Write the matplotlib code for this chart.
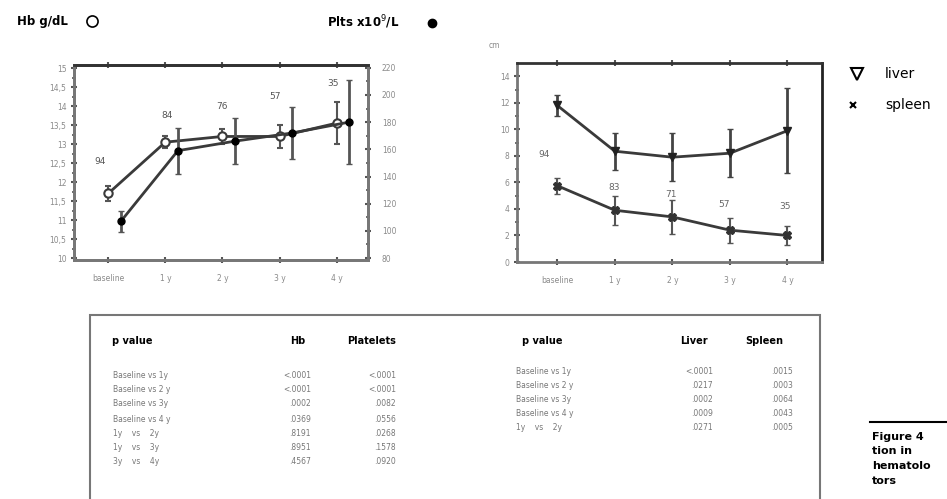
import matplotlib.pyplot as plt
from matplotlib.lines import Line2D
from matplotlib.patches import Rectangle
import numpy as np

# follow-up time points
times = ['baseline', '1 y', '2 y', '3 y', '4 y']
n_left = ['94', '84', '76', '57', '35']
n_right = ['94', '83', '71', '57', '35']

# haemoglobin (g/dL) and platelets (x10^9/L), mean and SD
hb = [11.7, 13.05, 13.2, 13.2, 13.55]
hb_err = [0.2, 0.15, 0.2, 0.3, 0.55]
plt_vals = [107, 159, 166, 172, 180]
plt_err = [8, 17, 17, 19, 31]

# organ size (cm)
liver = [11.8, 8.35, 7.9, 8.2, 9.9]
liver_err = [0.8, 1.4, 1.8, 1.8, 3.2]
spleen = [5.75, 3.9, 3.4, 2.4, 2.0]
spleen_err = [0.6, 1.1, 1.3, 0.95, 0.7]

# p values
cmp_left = ['Baseline vs 1y', 'Baseline vs 2 y', 'Baseline vs 3y', 'Baseline vs 4 y',
            '1y    vs    2y', '1y    vs    3y', '3y    vs    4y']
p_hb = ['<.0001', '<.0001', '.0002', '.0369', '.8191', '.8951', '.4567']
p_plt = ['<.0001', '<.0001', '.0082', '.0556', '.0268', '.1578', '.0920']
cmp_right = ['Baseline vs 1y', 'Baseline vs 2 y', 'Baseline vs 3y', 'Baseline vs 4 y',
             '1y    vs    2y']
p_liver = ['<.0001', '.0217', '.0002', '.0009', '.0271']
p_spleen = ['.0015', '.0003', '.0064', '.0043', '.0005']

caption = ['Figure 4', 'tion in', 'hematolo', 'tors']

W, H = 947, 499
fig = plt.figure(figsize=(W / 100, H / 100), dpi=100)
plt.rcParams['font.family'] = ['DejaVu Sans']

LINE = '#3a3a3a'
TICK = '#8a8a8a'


def px(x, y):
    return x / W, 1 - y / H


def style_axes(ax):
    for side in ['left', 'bottom', 'right']:
        ax.spines[side].set_color('#777777')
        ax.spines[side].set_linewidth(2)
    ax.spines['top'].set_color('#333333')
    ax.spines['top'].set_linewidth(2)
    ax.tick_params(labelsize=5.5, labelcolor=TICK, color='#555555',
                   direction='inout', length=4, width=1.5)
    ax.tick_params(which='minor', direction='inout', length=3, width=1.2, color='#555555')
    ax.tick_params(axis='x', top=True, pad=8)


x = np.arange(len(times))

# left panel: Hb and platelets
ax1 = fig.add_axes([74 / W, 1 - 260 / H, 294 / W, 195 / H])
ax1.errorbar(x, hb, yerr=hb_err, color=LINE, lw=2, marker='o', ms=6,
             mfc='white', mec=LINE, mew=1.5, ecolor='#555555', elinewidth=1.5, capsize=2)
ax1.set_xlim(-0.6, 4.55)
ax1.set_ylim(9.95, 15.08)
ax1.set_yticks(np.arange(10, 15.01, 0.5))
ax1.set_yticklabels(['10', '10,5', '11', '11,5', '12', '12,5', '13', '13,5', '14', '14,5', '15'])
ax1.set_yticks(np.arange(10, 15.01, 0.25), minor=True)
ax1.set_xticks(x)
ax1.set_xticklabels(times)
style_axes(ax1)

ax1b = ax1.twinx()
ax1b.errorbar(x + 0.22, plt_vals, yerr=plt_err, color=LINE, lw=2, marker='o', ms=5,
              mfc='black', mec='black', ecolor='#555555', elinewidth=2, capsize=2)
ax1b.set_ylim(78.6, 222)
ax1b.set_yticks(np.arange(80, 221, 20))
ax1b.set_yticks(np.arange(80, 221, 10), minor=True)
style_axes(ax1b)
ax1b.tick_params(axis='y', labelsize=5.5, labelcolor=TICK, pad=8)

n_pos_left = [(-0.14, 12.55), (1.03, 13.76), (2.0, 14.0), (2.93, 14.25), (3.93, 14.6)]
for lab, (nx, ny) in zip(n_left, n_pos_left):
    ax1.text(nx, ny, lab, ha='center', va='center', fontsize=6.5, color='#555555')

# right panel: liver and spleen
ax2 = fig.add_axes([517 / W, 1 - 262 / H, 305 / W, 199 / H])
ax2.errorbar(x, liver, yerr=liver_err, color=LINE, lw=2, marker='v', ms=6,
             mfc='#222222', mec='#222222', ecolor='#444444', elinewidth=2, capsize=2)
ax2.errorbar(x, spleen, yerr=spleen_err, color=LINE, lw=2, marker='X', ms=6,
             mfc='#333333', mec='#333333', ecolor='#555555', elinewidth=1.5, capsize=2)
ax2.set_xlim(-0.7, 4.6)
ax2.set_ylim(0, 15)
ax2.set_yticks(np.arange(0, 15, 2))
ax2.set_yticks(np.arange(0, 15, 1), minor=True)
ax2.set_xticks(x)
ax2.set_xticklabels(times)
style_axes(ax2)
ax2.spines['right'].set_color('#222222')

n_pos_right = [(-0.23, 8.1), (0.98, 5.6), (1.98, 5.1), (2.9, 4.3), (3.95, 4.2)]
for lab, (nx, ny) in zip(n_right, n_pos_right):
    ax2.text(nx, ny, lab, ha='center', va='center', fontsize=6.5, color='#666666')

# axis titles and legend
fig.text(*px(17, 21), 'Hb g/dL', fontsize=8.5, fontweight='bold', va='center')
fig.lines.append(Line2D([92 / W], [1 - 21 / H], marker='o', ms=8, mfc='white',
                        mec='black', mew=1.2, transform=fig.transFigure))
fig.text(*px(327, 22), 'Plts x10$^9$/L', fontsize=8.5, fontweight='bold', va='center')
fig.lines.append(Line2D([432 / W], [1 - 23 / H], marker='o', ms=6, mfc='black',
                        mec='black', transform=fig.transFigure))
fig.text(*px(489, 45), 'cm', fontsize=5.5, color=TICK, va='center')

fig.lines.append(Line2D([857 / W], [1 - 74 / H], marker='v', ms=8, mfc='white',
                        mec='black', mew=1.5, transform=fig.transFigure))
fig.text(*px(885, 74), 'liver', fontsize=10, va='center')
fig.lines.append(Line2D([853 / W], [1 - 105 / H], marker='x', ms=5, mec='black',
                        mew=1.5, transform=fig.transFigure))
fig.text(*px(885, 105), 'spleen', fontsize=10, va='center')

# p value table
fig.patches.append(Rectangle(px(90, 515), (820 - 90) / W, (515 - 315) / H,
                             transform=fig.transFigure, fill=False,
                             edgecolor='#777777', lw=1.5))

hdr = dict(fontsize=7, fontweight='bold', va='center')
fig.text(*px(112, 341), 'p value', **hdr)
fig.text(*px(290, 341), 'Hb', **hdr)
fig.text(*px(347, 341), 'Platelets', **hdr)
fig.text(*px(522, 341), 'p value', **hdr)
fig.text(*px(680, 341), 'Liver', **hdr)
fig.text(*px(745, 341), 'Spleen', **hdr)

row = dict(fontsize=5.5, color='#777777', va='center')
rows_left_y = [375, 389, 404, 419, 433, 447, 462]
for lab, a, b, ry in zip(cmp_left, p_hb, p_plt, rows_left_y):
    fig.text(*px(113, ry), lab, **row)
    fig.text(*px(311, ry), a, ha='right', **row)
    fig.text(*px(396, ry), b, ha='right', **row)

rows_right_y = [372, 386, 400, 414, 428]
for lab, a, b, ry in zip(cmp_right, p_liver, p_spleen, rows_right_y):
    fig.text(*px(516, ry), lab, **row)
    fig.text(*px(713, ry), a, ha='right', **row)
    fig.text(*px(793, ry), b, ha='right', **row)

# caption block at the lower right
fig.lines.append(Line2D([870 / W, 960 / W], [1 - 422 / H, 1 - 422 / H], color='black',
                        lw=1.5, transform=fig.transFigure))
for i, line in enumerate(caption):
    fig.text(*px(872, 437 + i * 14.5), line, fontsize=8, fontweight='bold', va='center')

fig.savefig('out.png', dpi=100)
